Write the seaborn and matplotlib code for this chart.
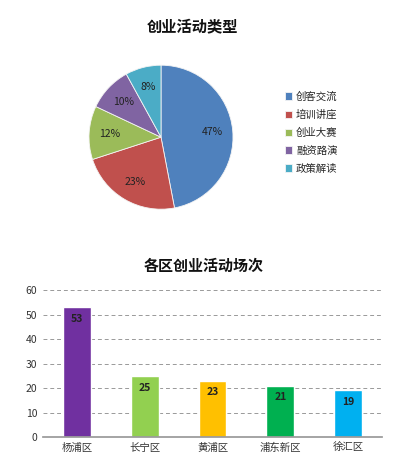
import matplotlib
matplotlib.use("Agg")
import matplotlib.pyplot as plt
import seaborn as sns
import pandas as pd

# Data
pie_labels = ["创客交流", "培训讲座", "创业大赛", "融资路演", "政策解读"]
pie_values = [47, 23, 12, 10, 8]
pie_colors = ["#4F81BD", "#C0504D", "#9BBB59", "#8064A2", "#4BACC6"]

districts = ["杨浦区", "长宁区", "黄浦区", "浦东新区", "徐汇区"]
counts = [53, 25, 23, 21, 19]
bar_colors = ["#7030A0", "#92D050", "#FFC000", "#00B050", "#00B0F0"]

sns.set_theme(style="white")
plt.rcParams['font.family'] = ['Noto Sans CJK SC', 'DejaVu Sans']

fig = plt.figure(figsize=(4, 4.68), dpi=100)

# Pie chart
ax1 = fig.add_axes([0.2225, 0.553, 0.36, 0.3077])
wedges, texts, autotexts = ax1.pie(
    pie_values, colors=pie_colors, startangle=90, counterclock=False,
    autopct=lambda p: f"{p:.0f}%", pctdistance=0.72,
    wedgeprops=dict(linewidth=0.6, edgecolor="#f4f4f4"),
    textprops=dict(fontsize=7.5, color="#222222"))
ax1.set_xlim(-1.0, 1.0)
ax1.set_ylim(-1.0, 1.0)
ax1.set_aspect("equal")
fig.text(0.4825, 0.943, "创业活动类型", ha="center", va="center",
         fontsize=11, fontweight="bold", color="#111111")
leg = fig.legend(wedges, pie_labels, loc="upper left",
                 bbox_to_anchor=(0.688, 0.825), frameon=False,
                 fontsize=7.5, handlelength=0.7, handleheight=0.7,
                 handletextpad=0.4, labelspacing=0.75)

# Bar chart
ax2 = fig.add_axes([0.1075, 0.0662, 0.8475, 0.314])
df = pd.DataFrame({"district": districts, "count": counts})
sns.barplot(data=df, x="district", y="count", hue="district",
            palette=bar_colors, width=0.41, legend=False, ax=ax2,
            saturation=1)
ax2.set_ylim(0, 60)
ax2.set_yticks(range(0, 61, 10))
ax2.set_xlabel("")
ax2.set_ylabel("")
ax2.grid(axis="y", linestyle=(0, (4, 3)), color="#999999", linewidth=0.7)
ax2.set_axisbelow(True)
for s in ["top", "right", "left"]:
    ax2.spines[s].set_visible(False)
ax2.spines["bottom"].set_color("#999999")
ax2.tick_params(axis="both", labelsize=7.5, colors="#333333", length=0, pad=4)
ax2.set_xlim(-0.5, len(districts) - 0.5)
for i, v in enumerate(counts):
    ax2.text(i, v - 4.8, str(v), ha="center", va="center", fontsize=7.5,
             fontweight="bold", color="#222222")
fig.text(0.51, 0.433, "各区创业活动场次", ha="center", va="center",
         fontsize=10.8, fontweight="bold", color="#111111")

fig.savefig("out.png", dpi=100, facecolor="white")
